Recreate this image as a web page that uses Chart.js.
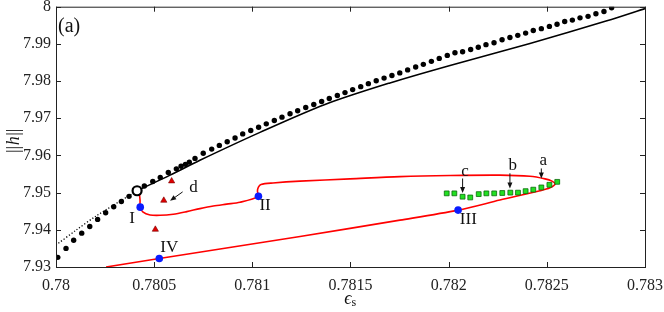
<!DOCTYPE html>
<html>
<head>
<meta charset="utf-8">
<script src="https://cdn.jsdelivr.net/npm/chart.js@4/dist/chart.umd.min.js"></script>
<style>
  html,body{margin:0;padding:0;background:#fff;}
  #wrap{width:664px;height:312px;}
</style>
</head>
<body>
<div id="wrap"><canvas id="c" width="664" height="312"></canvas></div>
<script>
/* axis ticks */
const xTicks = [0.78, 0.7805, 0.781, 0.7815, 0.782, 0.7825, 0.783];
const yTicks = [7.93, 7.94, 7.95, 7.96, 7.97, 7.98, 7.99, 8];

/* black branch: stable (solid) and unstable (dotted) */
const stableX = [0.780413, 0.780581, 0.780733, 0.781039, 0.781370, 0.781701, 0.782007, 0.782414, 0.782806, 0.783];
const stableY = [7.9505, 7.9547, 7.9587, 7.9662, 7.9737, 7.9795, 7.9842, 7.9901, 7.9962, 7.9995];
const unstableX = [0.78, 0.780102, 0.780204, 0.780413];
const unstableY = [7.9359, 7.9399, 7.9437, 7.9505];

/* black dots (simulations) */
const simX = [0.780009, 0.780051, 0.780090, 0.780131, 0.780172, 0.780212, 0.780253, 0.780294, 0.780333, 0.780372,
  0.780413, 0.780450, 0.780493, 0.780531, 0.780572, 0.780613, 0.780637, 0.780659, 0.780679, 0.780708,
  0.780750, 0.780793, 0.780832, 0.780872, 0.780912, 0.780951, 0.780992, 0.781032, 0.781071, 0.781112,
  0.781151, 0.781192, 0.781231, 0.781272, 0.781313, 0.781353, 0.781392, 0.781433, 0.781472, 0.781511,
  0.781552, 0.781591, 0.781631, 0.781671, 0.781711, 0.781751, 0.781791, 0.781832, 0.781871, 0.781912,
  0.781952, 0.781993, 0.782032, 0.782071, 0.782112, 0.782151, 0.782190, 0.782231, 0.782272, 0.782312,
  0.782352, 0.782392, 0.782431, 0.782472, 0.782513, 0.782552, 0.782591, 0.782630, 0.782669, 0.782710,
  0.782750, 0.782791, 0.782830];
const simY = [7.9326, 7.9350, 7.9372, 7.9391, 7.9409, 7.9428, 7.9446, 7.9462, 7.9476, 7.9490,
  7.9507, 7.9518, 7.9530, 7.9541, 7.9554, 7.9564, 7.9571, 7.9576, 7.9582, 7.9592,
  7.9606, 7.9617, 7.9627, 7.9637, 7.9647, 7.9658, 7.9667, 7.9676, 7.9685, 7.9694,
  7.9703, 7.9712, 7.9720, 7.9729, 7.9737, 7.9745, 7.9753, 7.9761, 7.9769, 7.9777,
  7.9785, 7.9793, 7.9801, 7.9808, 7.9815, 7.9822, 7.9830, 7.9838, 7.9845, 7.9853,
  7.9861, 7.9869, 7.9876, 7.9879, 7.9885, 7.9891, 7.9898, 7.9903, 7.9911, 7.9917,
  7.9923, 7.9929, 7.9936, 7.9941, 7.9947, 7.9953, 7.9960, 7.9964, 7.9970, 7.9974,
  7.9981, 7.9987, 7.9997];

/* red periodic branch */
const branchX = [0.780423, 0.780428, 0.780429, 0.780442, 0.780479, 0.780530, 0.780597, 0.780666, 0.780733, 0.780801,
  0.780869, 0.780937, 0.781031, 0.781026, 0.781031, 0.781044, 0.781105, 0.781243, 0.781497, 0.781752,
  0.782007, 0.782261, 0.782414, 0.782491, 0.782526, 0.782542, 0.782516, 0.782465, 0.782261, 0.782048,
  0.781752, 0.781243, 0.780526, 0.780255];
const branchY = [7.9504, 7.9480, 7.9461, 7.9448, 7.9440, 7.9439, 7.9442, 7.9449, 7.9457, 7.9464,
  7.9469, 7.9474, 7.9490, 7.9504, 7.9515, 7.9522, 7.9526, 7.9531, 7.9537, 7.9543,
  7.9546, 7.9547, 7.9544, 7.9537, 7.9531, 7.9523, 7.9513, 7.9505, 7.9480, 7.9453,
  7.9426, 7.9382, 7.9323, 7.9300];

/* special points */
const hopfX = [0.780413];
const hopfY = [7.9505];
const blueX = [0.780429, 0.781031, 0.782048, 0.780526];
const blueY = [7.9461, 7.9490, 7.9453, 7.9323];
const blueNames = ['I', 'II', 'III', 'IV'];
const blueLabelX = [0.780387, 0.781065, 0.782100, 0.780577];
const blueLabelY = [7.9431, 7.9466, 7.9428, 7.9353];

/* red triangles and green squares */
const triX = [0.780589, 0.780549, 0.780506];
const triY = [7.9531, 7.9479, 7.9401];
const sqX = [0.781990, 0.782029, 0.782071, 0.782110, 0.782153, 0.782192, 0.782232, 0.782273, 0.782314, 0.782353,
  0.782392, 0.782431, 0.782472, 0.782513, 0.782553];
const sqY = [7.9498, 7.9498, 7.9489, 7.9487, 7.9496, 7.9498, 7.9498, 7.9499, 7.9500, 7.9500,
  7.9504, 7.9508, 7.9514, 7.9521, 7.9529];

/* arrows: label, text pos, arrow from, arrow to */
const arrowNames = ['a', 'b', 'c', 'd'];
const arrowTextX = [0.782482, 0.782326, 0.782083, 0.780700];
const arrowTextY = [7.9587, 7.9574, 7.9558, 7.9515];
const arrowFromX = [0.782472, 0.782312, 0.782071, 0.780645];
const arrowFromY = [7.9565, 7.9552, 7.9538, 7.9502];
const arrowToX = [0.782472, 0.782312, 0.782071, 0.780581];
const arrowToY = [7.9538, 7.9511, 7.9499, 7.9478];

const pts = (xs, ys) => xs.map((v, i) => ({x: v, y: ys[i]}));
const SERIF = '"Liberation Serif", "DejaVu Serif", serif';

/* frame, inward ticks, annotations and axis titles */
const decor = {
  id: 'decor',
  afterDraw(chart){
    const {ctx, chartArea: a, scales: {x, y}} = chart;
    ctx.save();
    ctx.strokeStyle = '#222';
    ctx.lineWidth = 1;
    ctx.strokeRect(a.left + 0.5, a.top + 0.5, a.right - a.left, a.bottom - a.top);
    ctx.beginPath();
    x.ticks.forEach(t => {
      const px = Math.round(x.getPixelForValue(t.value)) + 0.5;
      ctx.moveTo(px, a.bottom); ctx.lineTo(px, a.bottom - 5);
      ctx.moveTo(px, a.top); ctx.lineTo(px, a.top + 5);
    });
    y.ticks.forEach(t => {
      const py = Math.round(y.getPixelForValue(t.value)) + 0.5;
      ctx.moveTo(a.left, py); ctx.lineTo(a.left + 5, py);
      ctx.moveTo(a.right, py); ctx.lineTo(a.right - 5, py);
    });
    ctx.stroke();

    ctx.fillStyle = '#111';
    ctx.textAlign = 'center';
    ctx.textBaseline = 'middle';
    ctx.font = '17px ' + SERIF;
    blueNames.forEach((n, i) => ctx.fillText(n, x.getPixelForValue(blueLabelX[i]), y.getPixelForValue(blueLabelY[i])));
    arrowNames.forEach((n, i) => ctx.fillText(n, x.getPixelForValue(arrowTextX[i]), y.getPixelForValue(arrowTextY[i])));

    // arrows
    ctx.strokeStyle = '#111';
    ctx.lineWidth = 1;
    arrowNames.forEach((n, i) => {
      const x0 = x.getPixelForValue(arrowFromX[i]), y0 = y.getPixelForValue(arrowFromY[i]);
      const x1 = x.getPixelForValue(arrowToX[i]), y1 = y.getPixelForValue(arrowToY[i]);
      const ang = Math.atan2(y1 - y0, x1 - x0);
      ctx.beginPath(); ctx.moveTo(x0, y0); ctx.lineTo(x1 - 4 * Math.cos(ang), y1 - 4 * Math.sin(ang)); ctx.stroke();
      ctx.beginPath();
      ctx.moveTo(x1, y1);
      ctx.lineTo(x1 - 6 * Math.cos(ang) + 2.5 * Math.sin(ang), y1 - 6 * Math.sin(ang) - 2.5 * Math.cos(ang));
      ctx.lineTo(x1 - 6 * Math.cos(ang) - 2.5 * Math.sin(ang), y1 - 6 * Math.sin(ang) + 2.5 * Math.cos(ang));
      ctx.closePath(); ctx.fill();
    });

    // panel tag
    ctx.font = '20px ' + SERIF;
    ctx.textAlign = 'left';
    ctx.fillText('(a)', a.left + 2, a.top + 20);

    // x title: epsilon_s
    ctx.font = 'italic 18px ' + SERIF;
    const cx = (a.left + a.right) / 2;
    ctx.textAlign = 'right';
    ctx.fillText('\u03f5', cx + 1, 299);
    ctx.font = '12px ' + SERIF;
    ctx.textAlign = 'left';
    ctx.fillText('s', cx + 1, 303);

    // y title: ||h||
    ctx.translate(14, (a.top + a.bottom) / 2 + 4);
    ctx.rotate(-Math.PI / 2);
    ctx.font = '18px ' + SERIF;
    ctx.textAlign = 'right';
    ctx.fillText('||', -5, 0);
    ctx.textAlign = 'left';
    ctx.fillText('||', 5, 0);
    ctx.font = 'italic 18px ' + SERIF;
    ctx.textAlign = 'center';
    ctx.fillText('h', 0, 0);
    ctx.restore();
  }
};

new Chart(document.getElementById('c'), {
  type: 'scatter',
  data: {
    datasets: [
      {data: pts(hopfX, hopfY), pointRadius: 4.5, pointBorderWidth: 2.2, pointBorderColor: '#000', pointBackgroundColor: '#fff', showLine: false},
      {data: pts(blueX, blueY), pointRadius: 3.8, pointBorderWidth: 0, pointBackgroundColor: '#0a1cff', showLine: false},
      {data: pts(sqX, sqY), pointStyle: 'rect', pointRadius: 3.4, pointBorderWidth: 0.8, pointBorderColor: '#0a6a0a', pointBackgroundColor: '#22e022', showLine: false},
      {data: pts(triX, triY), pointStyle: 'triangle', pointRadius: 3.6, pointBorderWidth: 0.6, pointBorderColor: '#700', pointBackgroundColor: '#e00000', showLine: false},
      {data: pts(branchX, branchY), showLine: true, borderColor: '#ff0000', borderWidth: 1.6, pointRadius: 0, tension: 0.3},
      {data: pts(simX, simY), pointRadius: 2.7, pointBorderWidth: 0, pointBackgroundColor: '#000', showLine: false},
      {data: pts(unstableX, unstableY), showLine: true, borderColor: '#000', borderWidth: 1.3, borderDash: [1.2, 2], pointRadius: 0, tension: 0.3},
      {data: pts(stableX, stableY), showLine: true, borderColor: '#000', borderWidth: 1.6, pointRadius: 0, tension: 0.3}
    ]
  },
  options: {
    responsive: false,
    animation: false,
    layout: {padding: {top: 6, right: 19, left: 0, bottom: 0}},
    plugins: {legend: {display: false}, tooltip: {enabled: false}},
    scales: {
      x: {
        type: 'linear', min: 0.78, max: 0.783,
        afterBuildTicks: s => { s.ticks = xTicks.map(v => ({value: v})); },
        afterFit: s => { s.height = 45; s.paddingLeft = 0; s.paddingRight = 0; },
        grid: {display: false, drawTicks: false},
        border: {display: false},
        ticks: {color: '#222', font: {family: SERIF, size: 16}, padding: 9, maxRotation: 0, callback: v => String(v)}
      },
      y: {
        type: 'linear', min: 7.93, max: 8,
        afterBuildTicks: s => { s.ticks = yTicks.map(v => ({value: v})); },
        afterFit: s => { s.width = 56; s.paddingTop = 0; s.paddingBottom = 0; },
        grid: {display: false, drawTicks: false},
        border: {display: false},
        ticks: {color: '#222', font: {family: SERIF, size: 16}, padding: 5, callback: v => String(v)}
      }
    }
  },
  plugins: [decor]
});
</script>
</body>
</html>
